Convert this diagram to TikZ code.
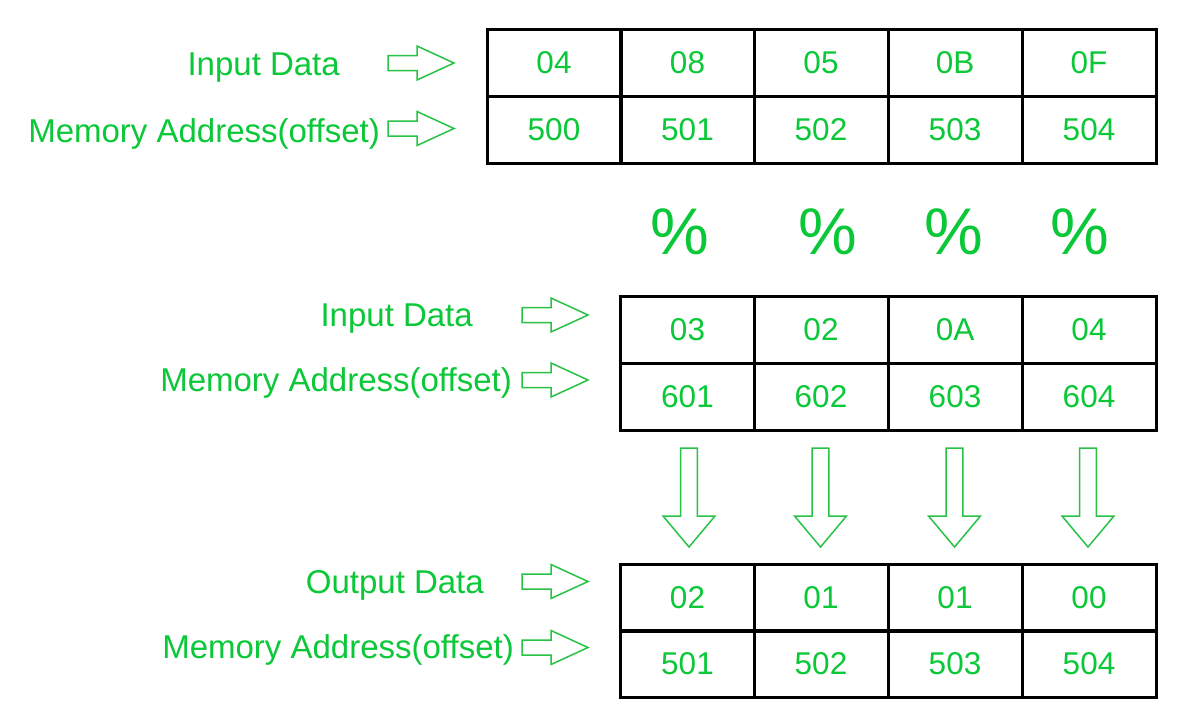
\documentclass[tikz,border=0pt]{standalone}
\usepackage{fontspec}
\setmainfont{Liberation Sans}
\definecolor{txtgreen}{RGB}{10,200,55}
\definecolor{arrgreen}{RGB}{40,195,70}
\tikzset{
  cell/.style={draw=black, line width=3pt, minimum width=134pt, minimum height=67pt,
    inner sep=0pt, text=txtgreen, font=\fontsize{31.5}{34}\selectfont},
  lbl/.style={anchor=base east, inner sep=0pt, text=txtgreen, font=\fontsize{33}{36}\selectfont},
  pct/.style={inner sep=0pt, text=txtgreen, font=\fontsize{66}{70}\selectfont},
  arrowline/.style={draw=arrgreen, line width=1.5pt, line join=miter},
  rarrow/.pic={\draw[arrowline] (0,-7.5) -- (29,-7.5) -- (29,-17) -- (66,0) -- (29,17) -- (29,7.5) -- (0,7.5) -- cycle;},
  darrow/.pic={\draw[arrowline] (-8.3,0) -- (-8.3,68) -- (-26,68) -- (0,99) -- (26,68) -- (8.3,68) -- (8.3,0) -- cycle;}
}
\begin{document}
\begin{tikzpicture}[x=1pt,y=-1pt]
\useasboundingbox[fill=white] (0,0) rectangle (1198,726);

% ---------- table 1 ----------
\node[cell] (a1) at (554,62.5) {04};
\node[cell] (a2) at (687.5,62.5) {08};
\node[cell] (a3) at (821,62.5) {05};
\node[cell] (a4) at (955,62.5) {0B};
\node[cell] (a5) at (1089,62.5) {0F};
\node[cell] (b1) at (554,129.5) {500};
\node[cell] (b2) at (687.5,129.5) {501};
\node[cell] (b3) at (821,129.5) {502};
\node[cell] (b4) at (955,129.5) {503};
\node[cell] (b5) at (1089,129.5) {504};

\node[lbl] (l1) at (340,75) {Input Data};
\node[lbl] (l2) at (380,142) {Memory Address(offset)};
\pic at (388,63) {rarrow};
\pic at (388,128.5) {rarrow};

% ---------- percent signs ----------
\node[pct] (p1) at (680,232) {\%};
\node[pct] (p2) at (828,232) {\%};
\node[pct] (p3) at (954,232) {\%};
\node[pct] (p4) at (1080,232) {\%};

% ---------- table 2 ----------
\node[cell] (c1) at (687.5,330) {03};
\node[cell] (c2) at (821,330) {02};
\node[cell] (c3) at (955,330) {0A};
\node[cell] (c4) at (1089,330) {04};
\node[cell] (d1) at (687.5,396.5) {601};
\node[cell] (d2) at (821,396.5) {602};
\node[cell] (d3) at (955,396.5) {603};
\node[cell] (d4) at (1089,396.5) {604};

\node[lbl] (l3) at (473,326) {Input Data};
\node[lbl] (l4) at (512,391) {Memory Address(offset)};
\pic at (522,315) {rarrow};
\pic at (522,380) {rarrow};

% ---------- down arrows ----------
\pic at (689,448) {darrow};
\pic at (820.5,448) {darrow};
\pic at (954.5,448) {darrow};
\pic at (1088,448) {darrow};

% ---------- table 3 ----------
\node[cell] (e1) at (687.5,597.5) {02};
\node[cell] (e2) at (821,597.5) {01};
\node[cell] (e3) at (955,597.5) {01};
\node[cell] (e4) at (1089,597.5) {00};
\node[cell] (f1) at (687.5,664) {501};
\node[cell] (f2) at (821,664) {502};
\node[cell] (f3) at (955,664) {503};
\node[cell] (f4) at (1089,664) {504};

\node[lbl] (l5) at (484,593) {Output Data};
\node[lbl] (l6) at (514,658) {Memory Address(offset)};
\pic at (522,581.5) {rarrow};
\pic at (522,647.5) {rarrow};
\end{tikzpicture}
\end{document}
